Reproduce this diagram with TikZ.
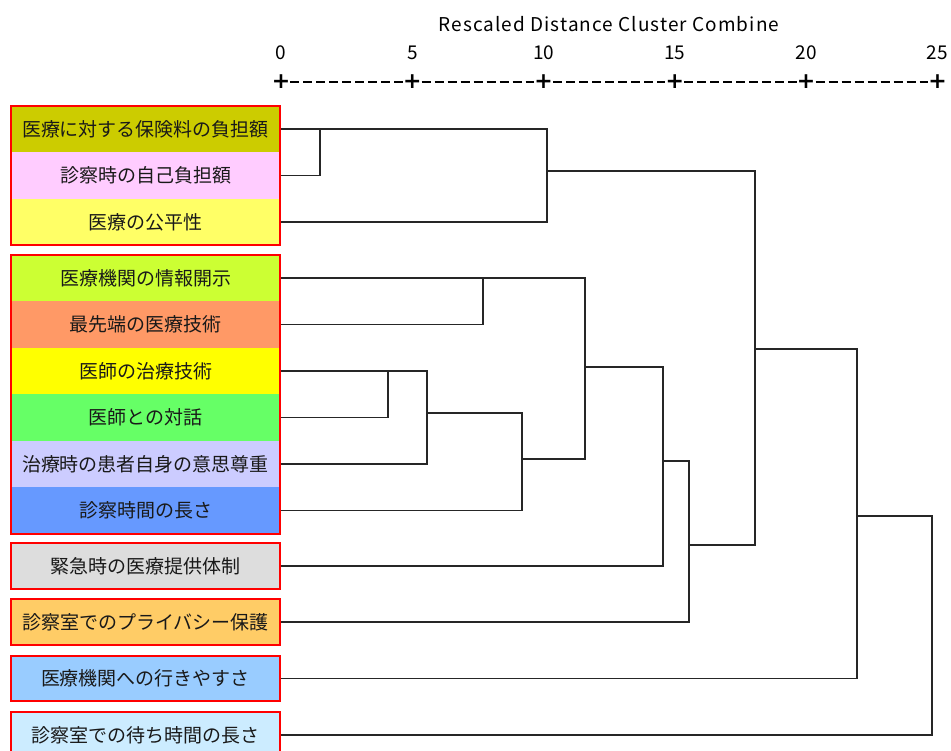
\documentclass[tikz,border=0pt]{standalone}
\usepackage{fontspec}
\setmainfont{Noto Sans CJK JP}
\newfontfamily\plusfont{DejaVu Sans}
\usetikzlibrary{fit}

\definecolor{bandA}{HTML}{CCCC00}
\definecolor{bandB}{HTML}{FFCCFF}
\definecolor{bandC}{HTML}{FFFF66}
\definecolor{bandD}{HTML}{CCFF33}
\definecolor{bandE}{HTML}{FF9966}
\definecolor{bandF}{HTML}{FFFF00}
\definecolor{bandG}{HTML}{66FF66}
\definecolor{bandH}{HTML}{CCCCFF}
\definecolor{bandI}{HTML}{6699FF}
\definecolor{bandJ}{HTML}{DDDDDD}
\definecolor{bandK}{HTML}{FFCC66}
\definecolor{bandL}{HTML}{99CCFF}
\definecolor{bandM}{HTML}{CCECFF}

\begin{document}
\begin{tikzpicture}[x=1pt,y=-1pt,
    band/.style={minimum width=268pt, minimum height=46.5pt, inner sep=0pt,
                 font=\fontsize{19}{19}\selectfont, text=black!90},
    grp/.style={draw=red, line width=2pt, inner sep=0pt},
    link/.style={draw=black!85, line width=1.2pt},
    tick/.style={font=\fontsize{19}{19}\selectfont, inner sep=0pt},
    plus/.style={font=\plusfont\bfseries\fontsize{22}{22}\selectfont, inner sep=0pt}]
\useasboundingbox (0,0) rectangle (951,751);

% scale at the top
\node[tick, font=\fontsize{19}{19}\selectfont\addfontfeatures{LetterSpace=5.5}] (title) at (609,24) {Rescaled Distance Cluster Combine};
\foreach \i in {0,...,5} {
    \pgfmathtruncatemacro\d{5*\i}
    \node[plus] (t\i) at (281+131.3*\i,82) {+};
    \node[tick] (n\i) at (281+131.3*\i,53) {\d};
}
\foreach \i [remember=\i as \k (initially 0)] in {1,...,5}
    \draw[line width=1.6pt, dash pattern=on 9pt off 4pt] (t\k) -- (t\i);

% items
\node[band, fill=bandA] (l1) at (145.5,129) {医療に対する保険料の負担額};
\node[band, fill=bandB] (l2) at (145.5,175.5) {診察時の自己負担額};
\node[band, fill=bandC] (l3) at (145.5,222) {医療の公平性};
\node[band, fill=bandD] (l4) at (145.5,278) {医療機関の情報開示};
\node[band, fill=bandE] (l5) at (145.5,324.5) {最先端の医療技術};
\node[band, fill=bandF] (l6) at (145.5,371) {医師の治療技術};
\node[band, fill=bandG] (l7) at (145.5,417.5) {医師との対話};
\node[band, fill=bandH] (l8) at (145.5,464) {治療時の患者自身の意思尊重};
\node[band, fill=bandI] (l9) at (145.5,510.5) {診察時間の長さ};
\node[band, fill=bandJ, minimum height=45pt] (l10) at (145.5,566) {緊急時の医療提供体制};
\node[band, fill=bandK, minimum height=45pt] (l11) at (145.5,622) {診察室でのプライバシー保護};
\node[band, fill=bandL, minimum height=45pt] (l12) at (145.5,678.5) {医療機関への行きやすさ};
\node[band, fill=bandM, minimum height=45pt] (l13) at (145.5,735) {診察室での待ち時間の長さ};

% tree
\coordinate (mA) at (320,129);
\draw[link] (l1.east) -| (mA) |- (l2.east);
\coordinate (mB) at (547,129);
\draw[link] (mA) -| (mB) |- (l3.east);
\coordinate (oB) at (547,171);
\coordinate (mC) at (483,278);
\draw[link] (l4.east) -| (mC) |- (l5.east);
\coordinate (mD) at (388,371);
\draw[link] (l6.east) -| (mD) |- (l7.east);
\coordinate (mE) at (427,371);
\draw[link] (mD) -| (mE) |- (l8.east);
\coordinate (oE) at (427,413);
\coordinate (mF) at (522,413);
\draw[link] (oE) -| (mF) |- (l9.east);
\coordinate (oF) at (522,459);
\coordinate (mG) at (585,278);
\draw[link] (mC) -| (mG) |- (oF);
\coordinate (oG) at (585,367);
\coordinate (mH) at (663,367);
\draw[link] (oG) -| (mH) |- (l10.east);
\coordinate (oH) at (663,461);
\coordinate (mI) at (689,461);
\draw[link] (oH) -| (mI) |- (l11.east);
\coordinate (oI) at (689,545);
\coordinate (mJ) at (755,171);
\draw[link] (oB) -| (mJ) |- (oI);
\coordinate (oJ) at (755,349);
\coordinate (mK) at (857,349);
\draw[link] (oJ) -| (mK) |- (l12.east);
\coordinate (oK) at (857,516);
\coordinate (mL) at (932,516);
\draw[link] (oK) -| (mL) |- (l13.east);

% red frames
\node[grp, fit=(l1)(l3)] (g1) {};
\node[grp, fit=(l4)(l9)] (g2) {};
\node[grp, fit=(l10)] (g3) {};
\node[grp, fit=(l11)] (g4) {};
\node[grp, fit=(l12)] (g5) {};
\node[grp, fit=(l13)] (g6) {};
\end{tikzpicture}
\end{document}
